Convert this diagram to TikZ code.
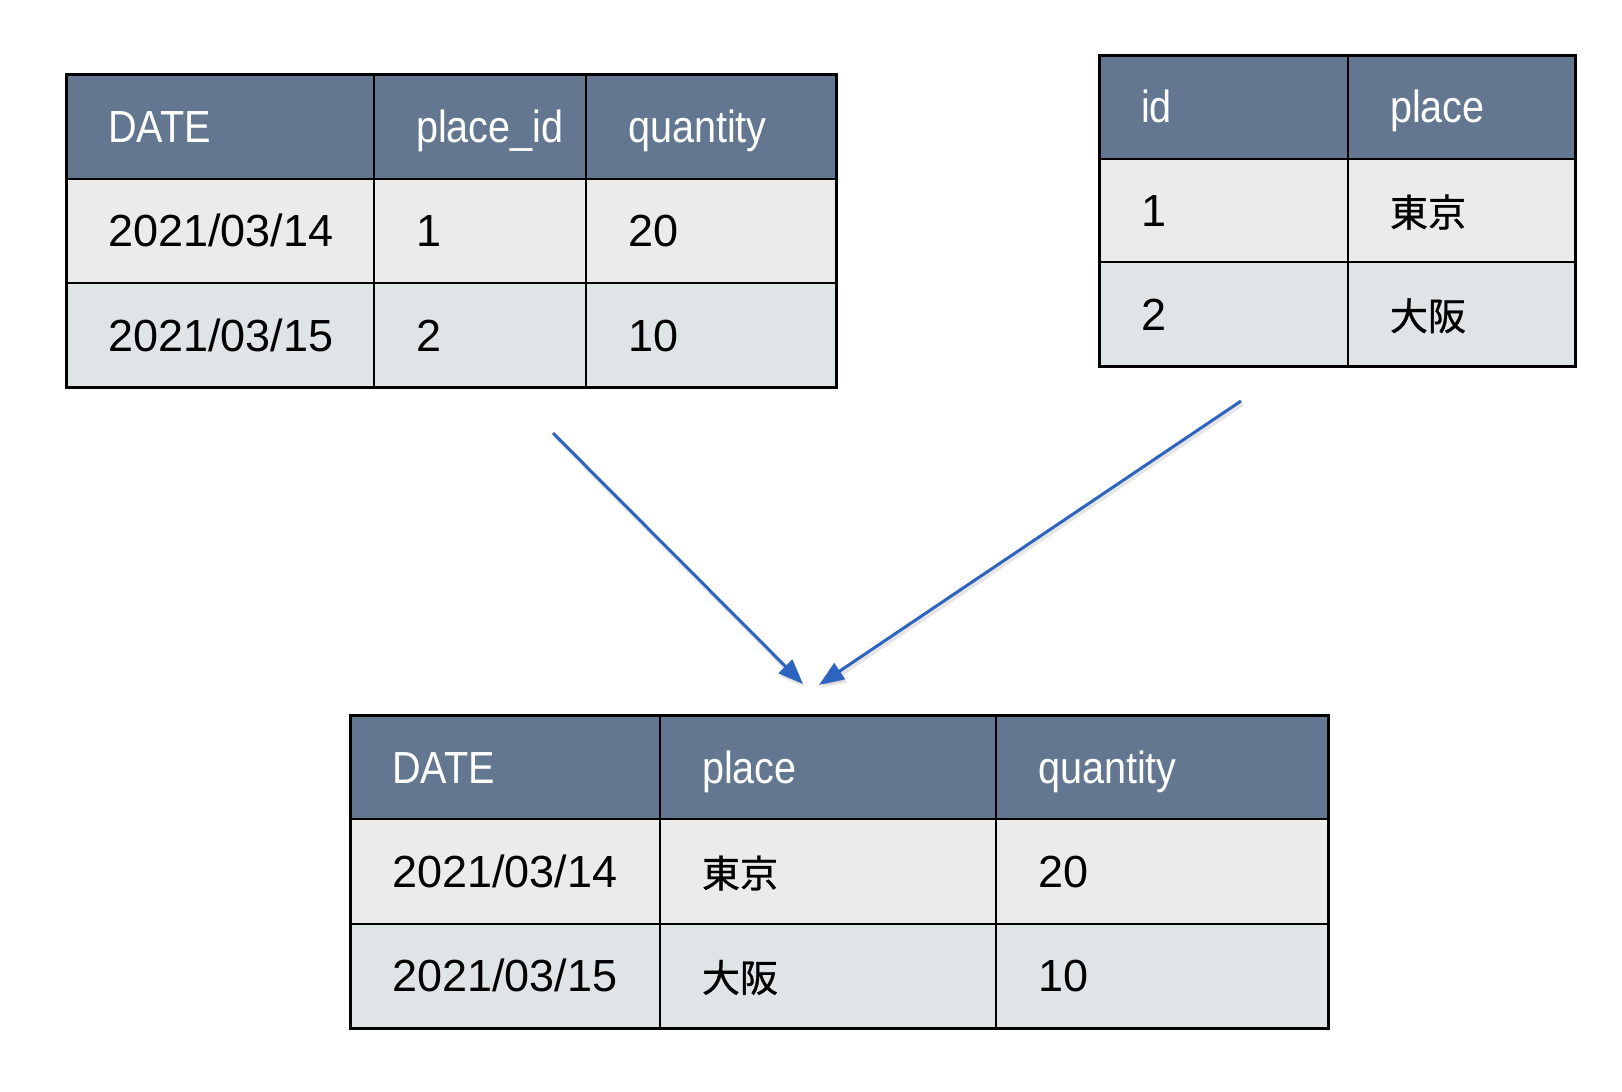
\documentclass[tikz,border=0pt]{standalone}
\usepackage{fontspec}
\setmainfont{Liberation Sans}
\newfontfamily\hdfont[FakeStretch=0.88]{Liberation Sans}
\newfontfamily\jp[FakeBold=0.8]{Noto Sans CJK JP}
\usetikzlibrary{arrows.meta}
\definecolor{hdr}{HTML}{637890}
\definecolor{rowa}{HTML}{EBEBEB}
\definecolor{rowb}{HTML}{DFE5E7}
\definecolor{arr}{HTML}{2C64C0}
\newcommand{\jpt}[1]{{\jp\fontsize{38}{44}\selectfont #1}}
\tikzset{
  cell/.style={draw=black, line width=2pt, anchor=north west, inner sep=0pt, outer sep=0pt,
    font=\fontsize{45}{54}\selectfont, text height=32pt, text depth=0pt, align=left},
  head/.style={cell, fill=hdr, text=white, font=\hdfont\fontsize{45}{54}\selectfont},
  ra/.style={cell, fill=rowa, text=black},
  rb/.style={cell, fill=rowb, text=black},
  frame/.style={draw=black, line width=3pt},
  link/.style={draw=arr, line width=3pt, -{Triangle[length=25pt,width=19pt]},
    preaction={draw=black, opacity=0.1, line width=4pt, transform canvas={shift={(1.5pt,-3pt)}}}}
}
\begin{document}
\begin{tikzpicture}[x=1pt,y=-1pt]
\useasboundingbox (0,0) rectangle (1622,1092);
% ---- table 1 ----
\node[head, minimum width=308pt, minimum height=104.5pt, text width=224pt] (t1h1) at (66,74) {DATE};
\node[head, minimum width=212pt, minimum height=104.5pt, text width=128pt] (t1h2) at (374,74) {place\_id};
\node[head, minimum width=250pt, minimum height=104.5pt, text width=166pt] (t1h3) at (586,74) {quantity};
\node[ra, minimum width=308pt, minimum height=104.5pt, text width=224pt] (t1a1) at (66,178.5) {2021/03/14};
\node[ra, minimum width=212pt, minimum height=104.5pt, text width=128pt] (t1a2) at (374,178.5) {1};
\node[ra, minimum width=250pt, minimum height=104.5pt, text width=166pt] (t1a3) at (586,178.5) {20};
\node[rb, minimum width=308pt, minimum height=104.5pt, text width=224pt] (t1b1) at (66,283) {2021/03/15};
\node[rb, minimum width=212pt, minimum height=104.5pt, text width=128pt] (t1b2) at (374,283) {2};
\node[rb, minimum width=250pt, minimum height=104.5pt, text width=166pt] (t1b3) at (586,283) {10};
\draw[frame] (t1h1.north west) rectangle (t1b3.south east);
% ---- table 2 ----
\node[head, minimum width=249pt, minimum height=103.7pt, text width=165pt] (t2h1) at (1099,55) {id};
\node[head, minimum width=227pt, minimum height=103.7pt, text width=143pt] (t2h2) at (1348,55) {place};
\node[ra, minimum width=249pt, minimum height=103.7pt, text width=165pt] (t2a1) at (1099,158.7) {1};
\node[ra, minimum width=227pt, minimum height=103.7pt, text width=143pt] (t2a2) at (1348,158.7) {\jpt{東京}};
\node[rb, minimum width=249pt, minimum height=103.7pt, text width=165pt] (t2b1) at (1099,262.3) {2};
\node[rb, minimum width=227pt, minimum height=103.7pt, text width=143pt] (t2b2) at (1348,262.3) {\jpt{大阪}};
\draw[frame] (t2h1.north west) rectangle (t2b2.south east);
% ---- result table ----
\node[head, minimum width=310pt, minimum height=104.3pt, text width=226pt] (t3h1) at (350,715) {DATE};
\node[head, minimum width=336pt, minimum height=104.3pt, text width=252pt] (t3h2) at (660,715) {place};
\node[head, minimum width=332pt, minimum height=104.3pt, text width=248pt] (t3h3) at (996,715) {quantity};
\node[ra, minimum width=310pt, minimum height=104.3pt, text width=226pt] (t3a1) at (350,819.3) {2021/03/14};
\node[ra, minimum width=336pt, minimum height=104.3pt, text width=252pt] (t3a2) at (660,819.3) {\jpt{東京}};
\node[ra, minimum width=332pt, minimum height=104.3pt, text width=248pt] (t3a3) at (996,819.3) {20};
\node[rb, minimum width=310pt, minimum height=104.3pt, text width=226pt] (t3b1) at (350,923.7) {2021/03/15};
\node[rb, minimum width=336pt, minimum height=104.3pt, text width=252pt] (t3b2) at (660,923.7) {\jpt{大阪}};
\node[rb, minimum width=332pt, minimum height=104.3pt, text width=248pt] (t3b3) at (996,923.7) {10};
\draw[frame] (t3h1.north west) rectangle (t3b3.south east);
% ---- arrows ----
\coordinate (s1) at (553,433);
\coordinate (e1) at (803,684);
\coordinate (s2) at (1241,401);
\coordinate (e2) at (819,685);
\draw[link] (s1) -- (e1);
\draw[link] (s2) -- (e2);
\end{tikzpicture}
\end{document}
